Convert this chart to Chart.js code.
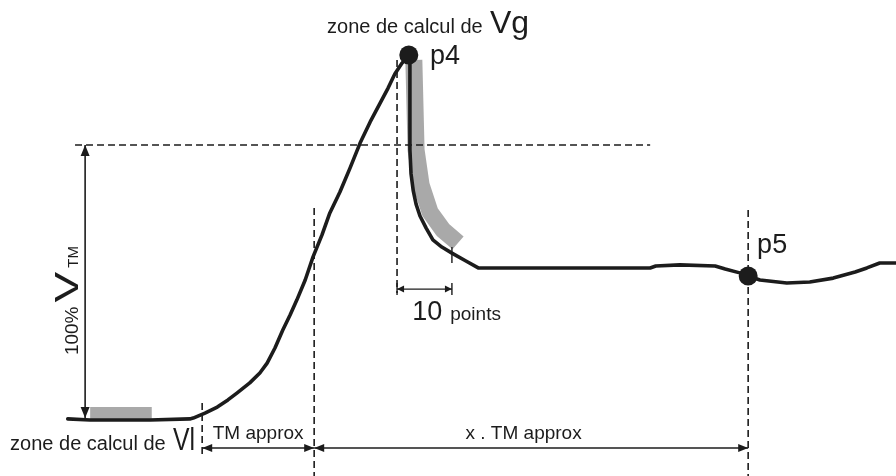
<!DOCTYPE html>
<html>
<head>
<meta charset="utf-8">
<script src="https://cdn.jsdelivr.net/npm/chart.js@4.4.0/dist/chart.umd.min.js"></script>
<style>
  body { margin: 0; background: #fff; }
  #wrap { width: 896px; height: 476px; }
</style>
</head>
<body>
<div id="wrap"><canvas id="pulseChart"></canvas></div>
<script>
// x = acquisition point index, y = level in % of V_TM (0 = rest level)
const curveX = [12.1, 16.1, 26.8, 33.9, 34.5, 36.6, 38.8, 40.7, 42.3, 44.6, 46.4, 47.7, 49.1, 50.5, 51.8, 53.0, 54.5, 55.9, 57.5, 58.9,
  60.7, 62.5, 64.3, 66.1, 67.9, 69.3, 70.5, 71.8, 73.0,
  73.2, 73.2, 73.2, 73.4, 73.8, 74.3, 75.0, 76.1, 77.3, 78.9, 80.7, 83.2, 85.4,
  100.0, 116.1, 117.1, 121.4, 127.7, 129.5, 132.1, 133.6, 135.7, 140.5, 144.6, 148.8, 152.7, 154.8, 157.1, 160.0];
const curveY = [0.4, 0, 0, 0.4, 0.7, 2.5, 4.7, 7.3, 9.8, 13.5, 17.1, 20.7, 26.2, 32.7, 38.2, 43.6, 50.9, 59.3, 67.3, 75.3,
  82.9, 91.6, 100.7, 108.4, 115.3, 120.7, 125.8, 129.8, 132.7,
  130.9, 116.4, 98.2, 89.5, 83.3, 78.5, 74.2, 69.8, 65.5, 62.9, 60.7, 57.8, 55.3,
  55.3, 55.3, 56.0, 56.4, 56.0, 54.9, 53.5, 52.4, 50.9, 49.8, 50.2, 51.6, 53.8, 55.3, 57.1, 57.1];

// the two marked points
const markerNames = ['p4', 'p5'];
const markerX = [73.0, 133.6];
const markerY = [132.7, 52.4];

// shaded zones used for Vl and Vg
const vlZoneX = [16.1, 27.1];
const vlZoneY = [2.2, 2.2];
const vgZoneX = [73.9, 74.3, 75.2, 76.8, 79.1, 81.8];
const vgZoneY = [130.9, 98.2, 85.5, 75.6, 69.1, 64.4];

const refLevel = 100;            // 100 % V_TM
const tmStart = 36.1;            // start of rise
const tmEnd = 56.1;              // start + TM approx
const tenPointsStart = 70.9;     // just before p4
const tenPointsEnd = 80.7;       // + 10 points
const p5At = 133.6;              // start + x . TM approx

const xMin = 0, xMax = 160;
const yMin = -20.36, yMax = 152.73;

const ink = '#1c1c1c';
const shade = 'rgba(160,160,160,0.9)';

function pts(xs, ys) {
  return xs.map((x, i) => ({ x: x, y: ys[i] }));
}

function guide(x1, y1, x2, y2) {
  return {
    data: [{ x: x1, y: y1 }, { x: x2, y: y2 }],
    showLine: true,
    borderColor: ink,
    borderWidth: 1.6,
    borderDash: [7, 4],
    pointRadius: 0,
    order: 2
  };
}

// arrows, labels and ticks drawn on top of the datasets
const annotations = {
  id: 'annotations',
  afterDatasetsDraw(chart) {
    const ctx = chart.ctx;
    const sx = chart.scales.x, sy = chart.scales.y;
    const px = v => sx.getPixelForValue(v);
    const py = v => sy.getPixelForValue(v);

    function head(x, y, ang, len, half) {
      ctx.save();
      ctx.translate(x, y);
      ctx.rotate(ang);
      ctx.beginPath();
      ctx.moveTo(0, 0);
      ctx.lineTo(-len, -half);
      ctx.lineTo(-len, half);
      ctx.closePath();
      ctx.fill();
      ctx.restore();
    }
    function arrow(x1, y1, x2, y2, len, half, width) {
      const a = Math.atan2(y2 - y1, x2 - x1);
      ctx.lineWidth = width;
      ctx.beginPath();
      ctx.moveTo(x1, y1);
      ctx.lineTo(x2, y2);
      ctx.stroke();
      head(x2, y2, a, len, half);
      head(x1, y1, a + Math.PI, len, half);
    }
    function text(str, x, y, size, align, scaleX) {
      ctx.save();
      ctx.font = size + 'px "Liberation Sans", Arial, sans-serif';
      ctx.textAlign = align || 'left';
      ctx.textBaseline = 'alphabetic';
      ctx.translate(x, y);
      ctx.scale(scaleX || 1, 1);
      ctx.fillText(str, 0, 0);
      ctx.restore();
    }

    ctx.save();
    ctx.strokeStyle = ink;
    ctx.fillStyle = ink;

    // 100 % V_TM
    arrow(px(15.2), py(refLevel), px(15.2), py(0.7), 11, 4.5, 1.6);
    // TM approx and x . TM approx
    arrow(px(tmStart), py(-10.2), px(tmEnd), py(-10.2), 10, 4, 1.6);
    arrow(px(tmEnd), py(-10.2), px(p5At), py(-10.2), 10, 4, 1.6);
    // 10 points
    arrow(px(tenPointsStart), py(47.6), px(tenPointsEnd), py(47.6), 7, 3.5, 1.4);
    ctx.lineWidth = 1.4;
    ctx.beginPath();
    ctx.moveTo(px(tenPointsStart), py(49.8)); ctx.lineTo(px(tenPointsStart), py(45.5));
    ctx.moveTo(px(tenPointsEnd), py(49.8)); ctx.lineTo(px(tenPointsEnd), py(45.5));
    ctx.moveTo(px(tenPointsEnd), py(62.9)); ctx.lineTo(px(tenPointsEnd), py(57.1));
    ctx.stroke();

    // labels
    text('zone de calcul de', px(58.4), py(140.7), 20);
    text('Vg', px(87.5), py(140.7), 32);
    text(markerNames[0], px(76.8), py(129.5), 27);
    text(markerNames[1], px(135.2), py(60.7), 27);
    text('10', px(73.6), py(36.4), 27);
    text('points', px(80.4), py(36.4), 19);
    text('TM approx', px(46.1), py(-6.9), 19, 'center');
    text('x . TM approx', px(93.5), py(-6.9), 19, 'center');
    text('zone de calcul de', px(1.8), py(-10.9), 20);
    text('Vl', px(30.9), py(-10.9), 31, 'left', 0.8);

    // rotated 100 % V_TM label (wide V)
    ctx.save();
    ctx.translate(px(13.9), py(23.6));
    ctx.rotate(-Math.PI / 2);
    ctx.textBaseline = 'alphabetic';
    ctx.font = '19px "Liberation Sans", Arial, sans-serif';
    ctx.fillText('100%', 0, 0);
    let w = ctx.measureText('100%').width + 4;
    ctx.font = '33px "Liberation Sans", Arial, sans-serif';
    ctx.save();
    ctx.translate(w, 0);
    ctx.scale(1.4, 1);
    ctx.fillText('V', 0, 0);
    ctx.restore();
    w += ctx.measureText('V').width * 1.4 + 4;
    ctx.font = '15px "Liberation Sans", Arial, sans-serif';
    ctx.fillText('TM', w, 0);
    ctx.restore();

    ctx.restore();
  }
};

new Chart(document.getElementById('pulseChart'), {
  type: 'scatter',
  data: {
    datasets: [
      {
        data: pts(markerX, markerY),
        pointRadius: 9.5,
        pointBackgroundColor: ink,
        pointBorderWidth: 0,
        showLine: false,
        order: 0
      },
      {
        data: pts(curveX, curveY),
        showLine: true,
        borderColor: ink,
        borderWidth: 3.6,
        borderJoinStyle: 'round',
        borderCapStyle: 'round',
        pointRadius: 0,
        order: 1
      },
      guide(13.4, refLevel, 116.1, refLevel),
      guide(tenPointsStart, 130.9, tenPointsStart, 46.2),
      guide(tmEnd, 77.1, tmEnd, yMin),
      guide(p5At, 76.4, p5At, yMin),
      guide(tmStart, 6.2, tmStart, -12.7),
      {
        data: pts(vlZoneX, vlZoneY),
        showLine: true,
        borderColor: shade,
        borderWidth: 14,
        borderCapStyle: 'butt',
        pointRadius: 0,
        order: 3
      },
      {
        data: pts(vgZoneX, vgZoneY),
        showLine: true,
        borderColor: shade,
        borderWidth: 17,
        borderJoinStyle: 'round',
        borderCapStyle: 'butt',
        pointRadius: 0,
        order: 3
      }
    ]
  },
  options: {
    responsive: true,
    maintainAspectRatio: false,
    animation: false,
    layout: { padding: 0, autoPadding: false },
    plugins: { legend: { display: false }, tooltip: { enabled: false } },
    scales: {
      x: { type: 'linear', min: xMin, max: xMax, display: false },
      y: { type: 'linear', min: yMin, max: yMax, display: false }
    },
    elements: { line: { tension: 0 } }
  },
  plugins: [annotations]
});
</script>
</body>
</html>
